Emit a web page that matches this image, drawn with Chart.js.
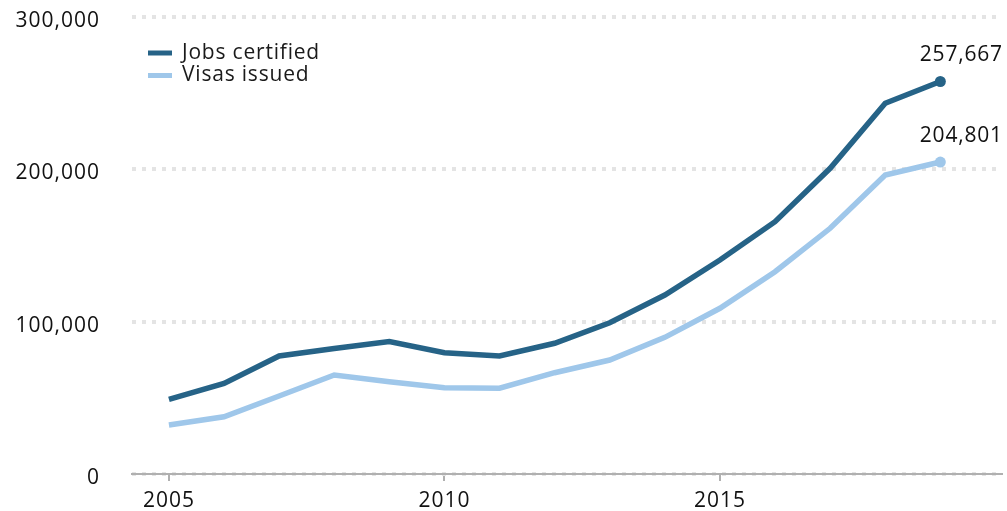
<!DOCTYPE html>
<html>
<head>
<meta charset="utf-8">
<script src="https://cdn.jsdelivr.net/npm/chart.js@4/dist/chart.umd.min.js"></script>
<style>
  html, body { margin: 0; padding: 0; background: #fff; }
  #wrap { width: 1007px; height: 511px; position: relative; }
</style>
</head>
<body>
<div id="wrap"><canvas id="chart"></canvas></div>
<script>
var years = [2005,2006,2007,2008,2009,2010,2011,2012,2013,2014,2015,2016,2017,2018,2019];
var jobsCertified = [49000,59500,77500,82400,86900,79600,77500,85800,99300,117500,140500,165600,200700,243400,257667];
var visasIssued = [32200,37600,51200,65000,60600,56700,56300,66500,74800,89700,108800,132800,161300,196300,204801];
var xTicks = [2005, 2010, 2015];
var yTicks = [0, 100000, 200000, 300000];

var dark = '#266387';
var light = '#9fc7ea';
var font = '"Open Sans", Lato, sans-serif';

function toPoints(vals) {
  return vals.map(function (v, i) { return { x: years[i], y: v }; });
}
function lastOnly(r) {
  return function (ctx) { return ctx.dataIndex === years.length - 1 ? r : 0; };
}

// a bit of tracking so Open Sans gets closer to the wide original face
var spacing = {
  id: 'spacing',
  beforeDraw: function (chart) { chart.ctx.letterSpacing = '1px'; }
};

// legend in the top left corner of the plot
var legendPlugin = {
  id: 'cornerLegend',
  afterDraw: function (chart) {
    var c = chart.ctx;
    c.save();
    c.font = '21px ' + font;
    c.letterSpacing = '0.8px';
    c.textBaseline = 'middle';
    chart.data.datasets.forEach(function (ds, i) {
      var y = 53 + i * 22.5;
      c.strokeStyle = ds.borderColor;
      c.lineWidth = 5;
      c.beginPath();
      c.moveTo(148, y);
      c.lineTo(172, y);
      c.stroke();
      c.fillStyle = '#1a1a1a';
      c.fillText(ds.label, 182, y);
    });
    c.restore();
  }
};

// value labels above the last points
var endLabels = {
  id: 'endLabels',
  afterDatasetsDraw: function (chart) {
    var c = chart.ctx;
    c.save();
    c.font = '21px ' + font;
    c.letterSpacing = '0.8px';
    c.fillStyle = '#111';
    c.textAlign = 'center';
    c.textBaseline = 'middle';
    chart.data.datasets.forEach(function (ds, i) {
      var pt = chart.getDatasetMeta(i).data[years.length - 1];
      var v = ds.data[years.length - 1].y;
      c.fillText(v.toLocaleString('en-US'), pt.x + 21, pt.y - 26);
    });
    c.restore();
  }
};

var ctx = document.getElementById('chart');
var chart = new Chart(ctx, {
  type: 'line',
  data: {
    datasets: [
      {
        label: 'Jobs certified',
        data: toPoints(jobsCertified),
        borderColor: dark,
        backgroundColor: dark,
        borderWidth: 5.5,
        pointRadius: lastOnly(5.5),
        pointHoverRadius: lastOnly(5.5),
        pointBorderWidth: 0,
        tension: 0
      },
      {
        label: 'Visas issued',
        data: toPoints(visasIssued),
        borderColor: light,
        backgroundColor: light,
        borderWidth: 5.5,
        pointRadius: lastOnly(5.5),
        pointHoverRadius: lastOnly(5.5),
        pointBorderWidth: 0,
        tension: 0
      }
    ]
  },
  options: {
    responsive: true,
    maintainAspectRatio: false,
    animation: false,
    layout: { padding: { top: 17, right: 0, bottom: 0, left: 0 } },
    plugins: {
      legend: { display: false },
      tooltip: { enabled: false }
    },
    scales: {
      x: {
        type: 'linear',
        min: 2004.33,
        max: 2020.11,
        afterBuildTicks: function (s) { s.ticks = xTicks.map(function (v) { return { value: v }; }); },
        afterFit: function (s) { s.height = 37; s.paddingLeft = 0; s.paddingRight = 0; },
        border: { display: true, color: '#b0b0b0', width: 2 },
        grid: { drawOnChartArea: false, drawTicks: true, tickLength: 7, color: '#b0b0b0', lineWidth: 2 },
        ticks: {
          padding: 7,
          color: '#111',
          font: { family: font, size: 21 },
          callback: function (v) { return String(v); }
        }
      },
      y: {
        min: 0,
        max: 300000,
        afterBuildTicks: function (s) { s.ticks = yTicks.map(function (v) { return { value: v }; }); },
        afterFit: function (s) { s.width = 132; s.paddingTop = 0; s.paddingBottom = 0; },
        grid: {
          drawTicks: false,
          color: '#e4e4e4',
          lineWidth: 4
        },
        border: { display: false, dash: [4, 6] },
        ticks: {
          padding: 32,
          labelOffset: 4,
          color: '#111',
          font: { family: font, size: 21 },
          callback: function (v) { return v.toLocaleString('en-US'); }
        }
      }
    }
  },
  plugins: [spacing, legendPlugin, endLabels]
});
</script>
</body>
</html>
